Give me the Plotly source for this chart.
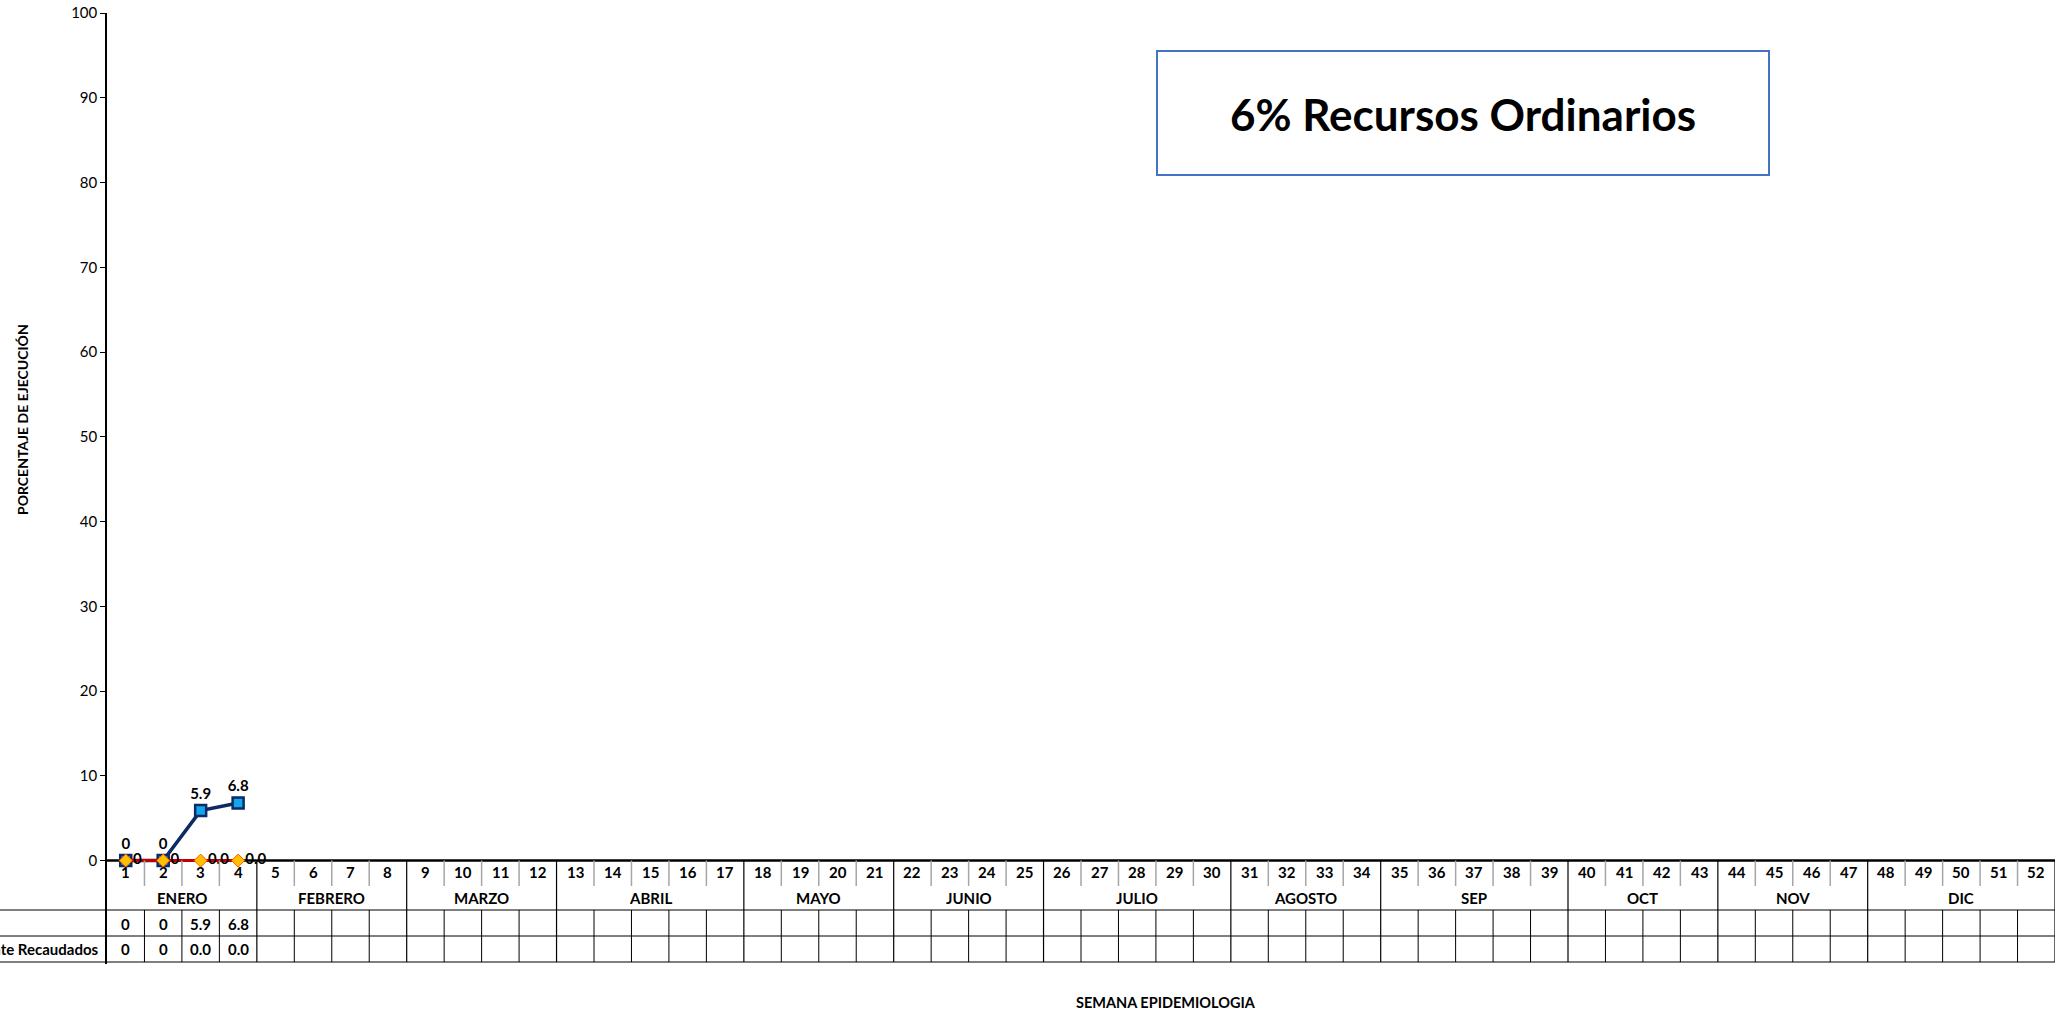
import plotly.graph_objects as go

# ---------------- data ----------------
weeks = list(range(1, 53))
month_names = ["ENERO", "FEBRERO", "MARZO", "ABRIL", "MAYO", "JUNIO",
               "JULIO", "AGOSTO", "SEP", "OCT", "NOV", "DIC"]
month_weeks = [4, 4, 4, 5, 4, 4, 5, 4, 5, 4, 4, 5]

s1_weeks = [1, 2, 3, 4]
s1_values = [0, 0, 5.9, 6.8]
s1_labels = ["0", "0", "5.9", "6.8"]

s2_weeks = [1, 2, 3, 4]
s2_values = [0, 0, 0.0, 0.0]
s2_labels = ["0", "0", "0.0", "0.0"]

row_labels = ["", "Efectivamente Recaudados"]
y_ticks = list(range(0, 101, 10))
title_text = "6% Recursos Ordinarios"
y_title = "PORCENTAJE DE EJECUCIÓN"
x_title = "SEMANA EPIDEMIOLOGIA"

# ---------------- layout geometry ----------------
W, H = 2062, 1013
ML, MR, MT, MB = 107, 7, 13, 49
PW, PH = W - ML - MR, H - MT - MB
YMIN, YMAX = -12.2, 100
SCALE = PH / (YMAX - YMIN)       # px per unit
Y0PX = MT + YMAX * SCALE         # pixel of y=0


def ypx(p):          # pixel row -> y data value
    return (Y0PX - p) / SCALE


def px_x(p):         # pixel column -> paper x
    return (p - ML) / PW


def px_y(p):         # pixel row -> paper y
    return (H - MB - p) / PH


FONT = "Lato"
TS = 15
fig = go.Figure()

fig.add_trace(go.Scatter(
    x=s1_weeks, y=s1_values, mode="lines+markers+text",
    text=s1_labels, textposition="top center",
    textfont=dict(family=FONT, size=TS, color="#000000"),
    line=dict(color="#0B2A66", width=3.5),
    marker=dict(symbol="square", size=11, color="#12A6EC",
                line=dict(color="#0B2A66", width=2.5)),
    cliponaxis=False, showlegend=False))

fig.add_trace(go.Scatter(
    x=s2_weeks, y=s2_values, mode="lines+markers+text",
    text=s2_labels, textposition="middle right",
    textfont=dict(family=FONT, size=TS, color="#000000"),
    line=dict(color="#C00000", width=3),
    marker=dict(symbol="diamond", size=10, color="#FFC000",
                line=dict(color="#FF5A00", width=1)),
    cliponaxis=False, showlegend=False))

shapes = []
annotations = []


def ann(**kw):
    kw.setdefault("showarrow", False)
    kw.setdefault("xanchor", "center")
    kw.setdefault("yanchor", "middle")
    size = kw.pop("size", TS)
    kw["font"] = dict(family=FONT, size=size, color="#000000")
    kw["text"] = "<b>%s</b>" % kw["text"]
    annotations.append(kw)


y_week_bot = ypx(886)
y_month_bot = ypx(910)
y_row1_bot = ypx(936)
y_row2_bot = ypx(962)

# month boundaries
bounds = []
acc = 0
for n in month_weeks:
    acc += n
    bounds.append(acc)

for k in range(1, 53):
    xb = k + 0.5
    if k in bounds:
        shapes.append(dict(type="line", xref="x", yref="y", x0=xb, x1=xb,
                           y0=0, y1=y_row2_bot, line=dict(color="#000000", width=1.2)))
    else:
        shapes.append(dict(type="line", xref="x", yref="y", x0=xb, x1=xb,
                           y0=0, y1=y_week_bot, line=dict(color="#A6A6A6", width=1.5)))
        shapes.append(dict(type="line", xref="x", yref="y", x0=xb, x1=xb,
                           y0=y_month_bot, y1=y_row2_bot, line=dict(color="#000000", width=1)))

# horizontal table lines (extend to left edge of image)
for yy in [y_month_bot, y_row1_bot, y_row2_bot]:
    py = Y0PX - yy * SCALE
    shapes.append(dict(type="line", xref="paper", yref="paper",
                       x0=px_x(0), x1=1, y0=px_y(py), y1=px_y(py),
                       line=dict(color="#000000", width=1)))

# zero line (x axis), drawn below the series
shapes.append(dict(type="line", xref="x", yref="y", x0=0.5, x1=52.5, y0=0, y1=0,
                   layer="below", line=dict(color="#000000", width=2.5)))

# title box
shapes.append(dict(type="rect", xref="paper", yref="paper",
                   x0=px_x(1157), x1=px_x(1769), y0=px_y(175), y1=px_y(51),
                   line=dict(color="#4472C4", width=2), fillcolor="rgba(0,0,0,0)"))

# week numbers
for w in weeks:
    ann(x=w, y=ypx(872), xref="x", yref="y", text=str(w))

# month labels
start = 0
for name, n in zip(month_names, month_weeks):
    center = start + (n + 1) / 2
    ann(x=center, y=ypx(898), xref="x", yref="y", text=name)
    start += n

# table values
for w, lab in zip(s1_weeks, s1_labels):
    ann(x=w, y=ypx(924), xref="x", yref="y", text=lab)
for w, lab in zip(s2_weeks, s2_labels):
    ann(x=w, y=ypx(949), xref="x", yref="y", text=lab)

# row labels
for lab, py in zip(row_labels, [924, 949]):
    if lab:
        ann(x=px_x(101), y=px_y(py), xref="paper", yref="paper",
            text=lab, xanchor="right")

# title text
ann(x=px_x(1463), y=px_y(114), xref="paper", yref="paper", text=title_text, size=44)

# axis titles
ann(x=px_x(22), y=px_y(420), xref="paper", yref="paper", text=y_title,
    textangle=-90, size=14)
ann(x=px_x(1166), y=px_y(1002), xref="paper", yref="paper", text=x_title, size=14.5)

fig.update_layout(
    width=W, height=H,
    margin=dict(l=ML, r=MR, t=MT, b=MB, autoexpand=False),
    paper_bgcolor="#FFFFFF", plot_bgcolor="#FFFFFF",
    font=dict(family=FONT, size=TS, color="#000000"),
    shapes=shapes, annotations=annotations,
    xaxis=dict(range=[0.5, 52.5], showgrid=False, zeroline=False, automargin=False,
               showticklabels=False, showline=False, ticks=""),
    yaxis=dict(range=[YMIN, YMAX], tickvals=y_ticks, showgrid=False, automargin=False,
               zeroline=False, showline=True, linecolor="#000000", linewidth=1.5,
               ticks="outside", ticklen=5, tickcolor="#000000",
               tickprefix="<b>", ticksuffix="</b>",
               tickfont=dict(family=FONT, size=TS, color="#000000")),
)

fig.update_traces(texttemplate="<b>%{text}</b>")

fig.write_html("out.html", config={"displayModeBar": False},
               post_script="document.body.style.margin='0';document.body.style.overflow='hidden';")
